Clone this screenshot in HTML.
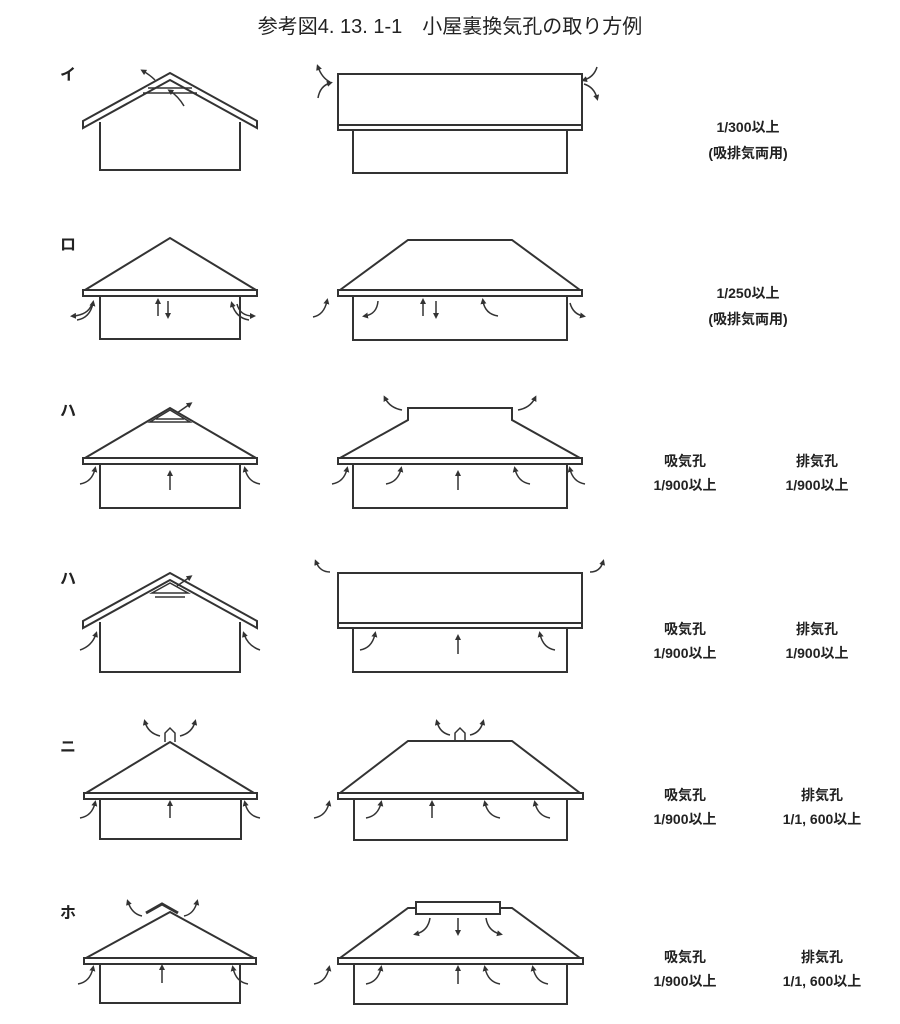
<!DOCTYPE html>
<html><head><meta charset="utf-8"><style>
body{margin:0;background:#fff;}
svg{display:block}
text{font-family:"Liberation Sans","Noto Sans CJK JP",sans-serif;fill:#222}
</style></head><body>
<svg width="900" height="1024" viewBox="0 0 900 1024" xmlns="http://www.w3.org/2000/svg">
<defs>
<marker id="a" markerWidth="6" markerHeight="6" refX="3" refY="3" orient="auto" markerUnits="userSpaceOnUse"><path d="M0,0 L6,3 L0,6 z" fill="#333"/></marker>
</defs>
<g stroke="#333" stroke-width="2" fill="none">
<text x="450" y="33" font-size="20" text-anchor="middle" stroke="none">参考図4. 13. 1-1　小屋裏換気孔の取り方例</text>
<g stroke="none" font-size="16" font-weight="bold">
<text x="60" y="80">イ</text><text x="60" y="250">ロ</text><text x="60" y="416">ハ</text><text x="60" y="584">ハ</text><text x="60" y="752">ニ</text><text x="60" y="918">ホ</text>
</g>
<g stroke="none" font-size="14" font-weight="bold" text-anchor="middle">
<text x="748" y="132">1/300以上</text><text x="748" y="158">(吸排気両用)</text>
<text x="748" y="298">1/250以上</text><text x="748" y="324">(吸排気両用)</text>
<text x="685" y="466">吸気孔</text><text x="685" y="490">1/900以上</text><text x="817" y="466">排気孔</text><text x="817" y="490">1/900以上</text>
<text x="685" y="634">吸気孔</text><text x="685" y="658">1/900以上</text><text x="817" y="634">排気孔</text><text x="817" y="658">1/900以上</text>
<text x="685" y="800">吸気孔</text><text x="685" y="824">1/900以上</text><text x="822" y="800">排気孔</text><text x="822" y="824">1/1, 600以上</text>
<text x="685" y="962">吸気孔</text><text x="685" y="986">1/900以上</text><text x="822" y="962">排気孔</text><text x="822" y="986">1/1, 600以上</text>
</g>

<path d="M83,121 L170,73 L257,121 L257,128 L170,80 L83,128 Z"/>
<path d="M100,122 V170 H240 V122"/>
<path d="M148,88 H192 M143,93 H197" stroke-width="1.5"/>
<path d="M155,80 Q150,75 143,71" marker-end="url(#a)" stroke-width="1.5"/>
<path d="M184,106 Q178,96 170,91" marker-end="url(#a)" stroke-width="1.5"/>
<rect x="338" y="74" width="244" height="56"/><line x1="338" y1="125" x2="582" y2="125"/>
<path d="M353,130 V173 H567 V130"/>
<path d="M330,82 Q322,78 318,67" marker-end="url(#a)" stroke-width="1.5"/>
<path d="M318,98 Q320,86 330,83" marker-end="url(#a)" stroke-width="1.5"/>
<path d="M597,67 Q594,77 584,80" marker-end="url(#a)" stroke-width="1.5"/>
<path d="M584,84 Q594,87 597,98" marker-end="url(#a)" stroke-width="1.5"/>

<path d="M85,290 L170,238 L256,290"/><rect x="83" y="290" width="174" height="6"/>
<path d="M100,296 V339 H240 V296"/>
<path d="M158,316 V301" marker-end="url(#a)" stroke-width="1.5"/><path d="M168,301 V316" marker-end="url(#a)" stroke-width="1.5"/>
<path d="M92,304 Q88,315 73,316" marker-end="url(#a)" stroke-width="1.5"/><path d="M77,320 Q90,318 93,303" marker-end="url(#a)" stroke-width="1.5"/>
<path d="M237,304 Q240,316 253,316" marker-end="url(#a)" stroke-width="1.5"/><path d="M249,320 Q236,318 232,304" marker-end="url(#a)" stroke-width="1.5"/>
<path d="M340,290 L408,240 H512 L580,290"/><rect x="338" y="290" width="244" height="6"/>
<path d="M353,296 V340 H567 V296"/>
<path d="M423,316 V301" marker-end="url(#a)" stroke-width="1.5"/><path d="M436,301 V316" marker-end="url(#a)" stroke-width="1.5"/>
<path d="M313,317 Q324,315 327,301" marker-end="url(#a)" stroke-width="1.5"/>
<path d="M378,301 Q377,314 365,316" marker-end="url(#a)" stroke-width="1.5"/>
<path d="M498,316 Q485,314 483,301" marker-end="url(#a)" stroke-width="1.5"/>
<path d="M570,303 Q573,314 583,316" marker-end="url(#a)" stroke-width="1.5"/>

<path d="M85,458 L170,408 L256,458"/><rect x="83" y="458" width="174" height="6"/>
<path d="M170,410 L150,422 H190 Z M156,419 H184" stroke-width="1.5"/>
<path d="M177,413 L190,404" marker-end="url(#a)" stroke-width="1.5"/>
<path d="M100,464 V508 H240 V464"/>
<path d="M170,490 V473" marker-end="url(#a)" stroke-width="1.5"/>
<path d="M80,484 Q92,482 95,469" marker-end="url(#a)" stroke-width="1.5"/>
<path d="M260,484 Q248,482 245,469" marker-end="url(#a)" stroke-width="1.5"/>
<path d="M340,458 L408,420 V408 H512 V420 L580,458"/><rect x="338" y="458" width="244" height="6"/>
<path d="M353,464 V508 H567 V464"/>
<path d="M402,410 Q390,408 385,398" marker-end="url(#a)" stroke-width="1.5"/>
<path d="M518,410 Q530,408 535,398" marker-end="url(#a)" stroke-width="1.5"/>
<path d="M458,490 V473" marker-end="url(#a)" stroke-width="1.5"/>
<path d="M332,484 Q344,482 347,469" marker-end="url(#a)" stroke-width="1.5"/>
<path d="M386,484 Q398,482 401,469" marker-end="url(#a)" stroke-width="1.5"/>
<path d="M530,484 Q518,482 515,469" marker-end="url(#a)" stroke-width="1.5"/>
<path d="M585,484 Q573,482 570,469" marker-end="url(#a)" stroke-width="1.5"/>

<path d="M83,621 L170,573 L257,621 L257,628 L170,580 L83,628 Z"/>
<path d="M170,583 L152,593 H188 Z M155,597 H185" stroke-width="1.5"/>
<path d="M177,586 L190,577" marker-end="url(#a)" stroke-width="1.5"/>
<path d="M100,622 V672 H240 V622"/>
<path d="M80,650 Q92,646 96,634" marker-end="url(#a)" stroke-width="1.5"/>
<path d="M260,650 Q248,646 244,634" marker-end="url(#a)" stroke-width="1.5"/>
<rect x="338" y="573" width="244" height="55"/><line x1="338" y1="623" x2="582" y2="623"/>
<path d="M353,628 V672 H567 V628"/>
<path d="M330,572 Q320,572 316,562" marker-end="url(#a)" stroke-width="1.5"/>
<path d="M590,572 Q600,572 603,562" marker-end="url(#a)" stroke-width="1.5"/>
<path d="M458,654 V637" marker-end="url(#a)" stroke-width="1.5"/>
<path d="M360,650 Q372,648 375,634" marker-end="url(#a)" stroke-width="1.5"/>
<path d="M555,650 Q543,648 540,634" marker-end="url(#a)" stroke-width="1.5"/>

<path d="M86,793 L170,742 L254,793"/><rect x="84" y="793" width="173" height="6"/>
<path d="M165,742 V733 L170,728 L175,733 V742" stroke-width="1.5"/>
<path d="M160,736 Q148,733 145,722" marker-end="url(#a)" stroke-width="1.5"/>
<path d="M180,736 Q192,733 195,722" marker-end="url(#a)" stroke-width="1.5"/>
<path d="M100,799 V839 H241 V799"/>
<path d="M170,818 V803" marker-end="url(#a)" stroke-width="1.5"/>
<path d="M80,818 Q92,816 95,803" marker-end="url(#a)" stroke-width="1.5"/>
<path d="M260,818 Q248,816 245,803" marker-end="url(#a)" stroke-width="1.5"/>
<path d="M340,793 L408,741 H512 L580,793"/><rect x="338" y="793" width="245" height="6"/>
<path d="M455,741 V733 L460,728 L465,733 V741" stroke-width="1.5"/>
<path d="M450,735 Q440,733 437,722" marker-end="url(#a)" stroke-width="1.5"/>
<path d="M470,735 Q480,733 483,722" marker-end="url(#a)" stroke-width="1.5"/>
<path d="M354,799 V840 H567 V799"/>
<path d="M432,818 V803" marker-end="url(#a)" stroke-width="1.5"/>
<path d="M314,818 Q326,816 329,803" marker-end="url(#a)" stroke-width="1.5"/>
<path d="M366,818 Q378,816 381,803" marker-end="url(#a)" stroke-width="1.5"/>
<path d="M500,818 Q488,816 485,803" marker-end="url(#a)" stroke-width="1.5"/>
<path d="M550,818 Q538,816 535,803" marker-end="url(#a)" stroke-width="1.5"/>

<path d="M86,958 L170,912 L254,958"/><rect x="84" y="958" width="172" height="6"/>
<path d="M146,913 L162,904 L178,913" stroke-width="3"/>
<path d="M142,916 Q132,914 128,902" marker-end="url(#a)" stroke-width="1.5"/>
<path d="M184,916 Q194,914 197,902" marker-end="url(#a)" stroke-width="1.5"/>
<path d="M100,964 V1003 H240 V964"/>
<path d="M162,983 V967" marker-end="url(#a)" stroke-width="1.5"/>
<path d="M78,984 Q90,982 93,968" marker-end="url(#a)" stroke-width="1.5"/>
<path d="M248,984 Q236,982 233,968" marker-end="url(#a)" stroke-width="1.5"/>
<path d="M340,958 L408,908 H416 M500,908 H512 L580,958"/>
<rect x="416" y="902" width="84" height="12"/>
<rect x="338" y="958" width="245" height="6"/>
<path d="M354,964 V1004 H567 V964"/>
<path d="M430,918 Q428,931 416,934" marker-end="url(#a)" stroke-width="1.5"/>
<path d="M458,918 V933" marker-end="url(#a)" stroke-width="1.5"/>
<path d="M486,918 Q488,931 500,934" marker-end="url(#a)" stroke-width="1.5"/>
<path d="M458,984 V968" marker-end="url(#a)" stroke-width="1.5"/>
<path d="M314,984 Q326,982 329,968" marker-end="url(#a)" stroke-width="1.5"/>
<path d="M366,984 Q378,982 381,968" marker-end="url(#a)" stroke-width="1.5"/>
<path d="M500,984 Q488,982 485,968" marker-end="url(#a)" stroke-width="1.5"/>
<path d="M548,984 Q536,982 533,968" marker-end="url(#a)" stroke-width="1.5"/>
</g>
</svg>
</body></html>
